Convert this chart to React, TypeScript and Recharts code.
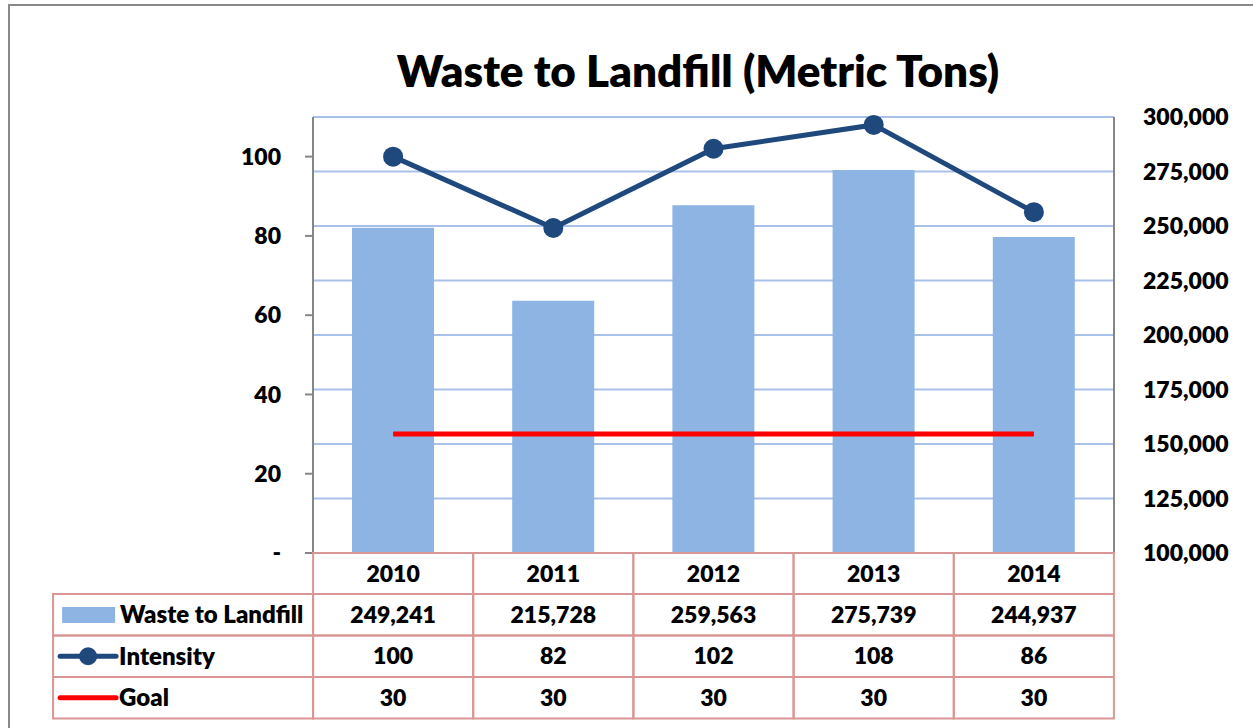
import React from 'react';
import { ComposedChart, Bar, Line, XAxis, YAxis, CartesianGrid } from 'recharts';

const years = ['2010', '2011', '2012', '2013', '2014'];
const wasteToLandfill = [249241, 215728, 259563, 275739, 244937];
const intensity = [100, 82, 102, 108, 86];
const goal = [30, 30, 30, 30, 30];
const leftTicks = [0, 20, 40, 60, 80, 100];
const rightTicks = [100000, 125000, 150000, 175000, 200000, 225000, 250000, 275000, 300000];

const data = years.map((year, i) => ({
  year,
  waste: wasteToLandfill[i],
  intensity: intensity[i],
  goal: goal[i],
}));

const FONT = 'Lato, "Open Sans", sans-serif';
const BAR = '#8EB4E3';
const LINE = '#1F497D';
const GOAL = '#FF0000';
const GRID = '#A9C1E8';
const TABLE = '#D99694';
const AXIS = '#868686';

const fmt = (v: number) => v.toLocaleString('en-US');

const CELL_W = 160;
const HEAD_H = 41;
const ROW_H = 41.5;
const LEG_W = 260;

function TableTick(props: any) {
  const { x, y, payload } = props;
  const i = payload.index;
  const left = x - CELL_W / 2;
  const rows = [fmt(wasteToLandfill[i]), String(intensity[i]), String(goal[i])];
  const textStyle = { fontFamily: FONT, fontWeight: 800, fontSize: 23, fill: '#000' };
  const legStyle = { fontFamily: FONT, fontWeight: 800, fontSize: 24, fill: '#000' };
  return (
    <g>
      <rect x={left} y={y} width={CELL_W} height={HEAD_H} fill="#fff" stroke={TABLE} strokeWidth={2} />
      <text x={x} y={y + HEAD_H / 2} dy="0.35em" textAnchor="middle" style={textStyle}>
        {years[i]}
      </text>
      {rows.map((r, k) => (
        <g key={k}>
          <rect x={left} y={y + HEAD_H + k * ROW_H} width={CELL_W} height={ROW_H} fill="none" stroke={TABLE} strokeWidth={2} />
          <text x={x} y={y + HEAD_H + k * ROW_H + ROW_H / 2} dy="0.35em" textAnchor="middle" style={textStyle}>
            {r}
          </text>
        </g>
      ))}
      {i === 0 && (
        <g>
          {[0, 1, 2].map((k) => (
            <rect key={k} x={left - LEG_W} y={y + HEAD_H + k * ROW_H} width={LEG_W} height={ROW_H} fill="none" stroke={TABLE} strokeWidth={2} />
          ))}
          <rect x={left - LEG_W + 9} y={y + HEAD_H + 13} width={53} height={16} fill={BAR} />
          <text x={left - LEG_W + 67} y={y + HEAD_H + ROW_H / 2} dy="0.35em" style={legStyle}>Waste to Landfill</text>
          <line x1={left - LEG_W + 7} x2={left - LEG_W + 63} y1={y + HEAD_H + ROW_H * 1.5} y2={y + HEAD_H + ROW_H * 1.5} stroke={LINE} strokeWidth={5} strokeLinecap="round" />
          <circle cx={left - LEG_W + 35} cy={y + HEAD_H + ROW_H * 1.5} r={9} fill={LINE} />
          <text x={left - LEG_W + 66} y={y + HEAD_H + ROW_H * 1.5} dy="0.35em" style={legStyle}>Intensity</text>
          <line x1={left - LEG_W + 7} x2={left - LEG_W + 63} y1={y + HEAD_H + ROW_H * 2.5} y2={y + HEAD_H + ROW_H * 2.5} stroke={GOAL} strokeWidth={5} strokeLinecap="round" />
          <text x={left - LEG_W + 66} y={y + HEAD_H + ROW_H * 2.5} dy="0.35em" style={legStyle}>Goal</text>
        </g>
      )}
    </g>
  );
}

export default function App() {
  return (
    <div style={{ position: 'absolute', left: 0, top: 0, width: 1253, height: 728, overflow: 'hidden', background: '#fff' }}>
      <div style={{ position: 'absolute', left: 8, top: 4, width: 1400, height: 900, border: '2px solid #898989', boxSizing: 'border-box' }} />
      <div
        style={{
          position: 'absolute',
          left: 298,
          top: 40,
          width: 800,
          textAlign: 'center',
          fontFamily: FONT,
          fontWeight: 800,
          fontSize: 44,
          lineHeight: '60px',
          whiteSpace: 'nowrap',
          color: '#000',
        }}
      >
        Waste to Landfill (Metric Tons)
      </div>
      <div style={{ position: 'absolute', left: 0, top: 0 }}>
        <ComposedChart width={1253} height={728} data={data} margin={{ top: 117, right: 0, bottom: 0, left: 0 }}>
          <CartesianGrid yAxisId="right" vertical={false} stroke={GRID} strokeWidth={2} />
          <XAxis
            dataKey="year"
            xAxisId={0}
            height={175}
            axisLine={false}
            tickLine={false}
            tickSize={0}
            tickMargin={0}
            interval={0}
            tick={<TableTick />}
          />
          <YAxis
            yAxisId="left"
            orientation="left"
            width={313}
            domain={[0, 110]}
            ticks={leftTicks}
            interval={0}
            tickFormatter={(v: number) => (v === 0 ? '-' : String(v))}
            axisLine={{ stroke: AXIS, strokeWidth: 2 }}
            tickLine={{ stroke: AXIS, strokeWidth: 2 }}
            tickSize={8}
            tickMargin={24}
            tick={{ fill: '#000', fontFamily: FONT, fontWeight: 800, fontSize: 23 }}
          />
          <YAxis
            yAxisId="right"
            orientation="right"
            width={139}
            domain={[100000, 300000]}
            ticks={rightTicks}
            interval={0}
            tickFormatter={fmt}
            axisLine={{ stroke: AXIS, strokeWidth: 2 }}
            tickLine={false}
            tickSize={0}
            tickMargin={29}
            tick={{ fill: '#000', fontFamily: FONT, fontWeight: 800, fontSize: 23 }}
          />
          <Bar yAxisId="right" dataKey="waste" fill={BAR} barSize={82} isAnimationActive={false} />
          <Line
            yAxisId="left"
            dataKey="goal"
            stroke={GOAL}
            strokeWidth={5}
            dot={false}
            activeDot={false}
            isAnimationActive={false}
          />
          <Line
            yAxisId="left"
            dataKey="intensity"
            stroke={LINE}
            strokeWidth={5}
            dot={{ r: 10, fill: LINE, stroke: LINE, strokeWidth: 0 }}
            activeDot={false}
            isAnimationActive={false}
          />
        </ComposedChart>
      </div>
    </div>
  );
}
